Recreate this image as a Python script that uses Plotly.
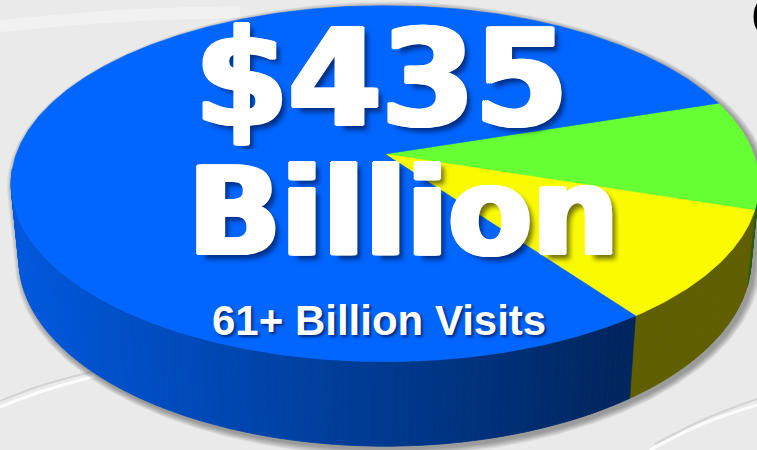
import numpy as np
import plotly.graph_objects as go

# ---- data -------------------------------------------------------------
segment_labels = ["Segment A", "Segment B", "Segment C"]
segment_values = [10, 10, 80]
segment_colors = ["#66FF33", "#FAFA00", "#0066FF"]

headline = "$435"
headline_unit = "Billion"
subline = "61+ Billion Visits"

# ---- 3D pie geometry ---------------------------------------------------
W, H_PX = 757, 450
PHI = np.radians(28.0)          # camera elevation
CPHI, SPHI = np.cos(PHI), np.sin(PHI)
DIST = 5.3                      # camera distance (pie radius = 1)
FOCAL = 1954.0
CX, CY = 385.0, 154.0           # screen position of the pie centre
THICK = 0.235                   # pie thickness
START_DEG = 18.0                # first boundary, slices run clockwise


def project(X, Y, Z):
    depth = DIST + Y * CPHI - Z * SPHI
    sx = CX + FOCAL * X / depth
    sy = CY - FOCAL * (Y * SPHI + Z * CPHI) / depth
    return sx, sy


def shade(hex_color, k):
    h = hex_color.lstrip("#")
    r, g, b = (int(h[i:i + 2], 16) for i in (0, 2, 4))
    return "rgb({},{},{})".format(int(r * k), int(g * k), int(b * k))


total = float(sum(segment_values))
bounds = [START_DEG]
for v in segment_values:
    bounds.append(bounds[-1] - 360.0 * v / total)

fig = go.Figure()

# faint streaks in the backdrop
streaks = [
    dict(x=[0, 40, 95], y=[407, 392, 376], c="rgba(255,255,255,0.85)", w=3),
    dict(x=[0, 40, 95], y=[401, 386, 371], c="rgba(170,170,170,0.35)", w=2),
    dict(x=[0, 120, 240], y=[26, 16, 12], c="rgba(255,255,255,0.35)", w=12),
    dict(x=[650, 700, 757], y=[450, 425, 405], c="rgba(255,255,255,0.8)", w=3),
    dict(x=[655, 705, 757], y=[444, 419, 399], c="rgba(170,170,170,0.35)", w=2),
]
for s in streaks:
    fig.add_trace(go.Scatter(x=s["x"], y=s["y"], mode="lines",
                             line=dict(color=s["c"], width=s["w"], shape="spline"),
                             hoverinfo="skip", showlegend=False))

# soft shadow under the pie (convex outline of top and bottom rims)
tt = np.radians(np.linspace(0, 360, 361))
tx, ty = project(np.cos(tt), np.sin(tt), 0 * tt)
bx, by = project(np.cos(tt), np.sin(tt), -THICK + 0 * tt)
pts = np.vstack([np.column_stack([tx, ty]), np.column_stack([bx, by])])


def hull(p):
    p = sorted(map(tuple, p))
    def half(seq):
        out = []
        for q in seq:
            while len(out) >= 2 and (
                (out[-1][0] - out[-2][0]) * (q[1] - out[-2][1])
                - (out[-1][1] - out[-2][1]) * (q[0] - out[-2][0])
            ) <= 0:
                out.pop()
            out.append(q)
        return out
    lo, up = half(p), half(reversed(p))
    return np.array(lo[:-1] + up[:-1])


hp = hull(pts)
cen = hp.mean(axis=0)
for k in range(7, 0, -1):
    rad = np.linalg.norm(hp - cen, axis=1, keepdims=True)
    q = cen + (hp - cen) * (1 + k / rad) + np.array([3.0, 3.0])
    fig.add_trace(go.Scatter(
        x=np.append(q[:, 0], q[0, 0]), y=np.append(q[:, 1], q[0, 1]),
        fill="toself", fillcolor="rgba(40,40,40,0.07)",
        line=dict(width=0), mode="lines", hoverinfo="skip", showlegend=False))

# side walls, painted far to near
quads = []
for i, col in enumerate(segment_colors):
    a0, a1 = bounds[i], bounds[i + 1]
    n = max(2, int(abs(a0 - a1)))
    edges = np.radians(np.linspace(a0, a1, n + 1))
    for t0, t1 in zip(edges[:-1], edges[1:]):
        tm = 0.5 * (t0 + t1)
        if np.sin(tm) > -0.08:
            continue
        xs, ys = [], []
        for t, z in ((t0, 0.0), (t1, 0.0), (t1, -THICK), (t0, -THICK)):
            sx, sy = project(np.cos(t), np.sin(t), z)
            xs.append(sx)
            ys.append(sy)
        depth = DIST + np.sin(tm) * CPHI + 0.5 * THICK * SPHI
        mx = float(np.mean(xs))
        k = float(np.clip(0.87 - 0.5 * (mx - 20) / 600, 0.38, 0.87))
        quads.append((depth, xs, ys, shade(col, k)))

for depth, xs, ys, c in sorted(quads, key=lambda q: -q[0]):
    fig.add_trace(go.Scatter(
        x=xs + [xs[0]], y=ys + [ys[0]], fill="toself", fillcolor=c,
        line=dict(width=0.8, color=c), mode="lines",
        hoverinfo="skip", showlegend=False))

# top faces
for i, (lab, col) in enumerate(zip(segment_labels, segment_colors)):
    a0, a1 = bounds[i], bounds[i + 1]
    t = np.radians(np.linspace(a0, a1, max(3, int(abs(a0 - a1) * 2))))
    sx, sy = project(np.cos(t), np.sin(t), 0 * t)
    ax, ay = project(0.0, 0.0, 0.0)
    fig.add_trace(go.Scatter(
        x=np.concatenate([[ax], sx, [ax]]), y=np.concatenate([[ay], sy, [ay]]),
        fill="toself", fillcolor=col, line=dict(width=0.6, color=col),
        mode="lines", name=lab, hoverinfo="skip", showlegend=False))

# heavy white lettering: thickened with white offsets, plus a drop shadow
fat = ", ".join("{}px {}px 0 #ffffff".format(dx, dy)
                for dx, dy in ((-3, 0), (3, 0), (-2, 0), (2, 0), (-1, 0), (1, 0),
                               (0, -1), (0, 1), (-2, 1), (2, 1), (-2, -1), (2, -1)))
big_shadow = fat + ", 6px 5px 5px rgba(0,0,30,0.55)"
small_shadow = "2px 2px 3px rgba(0,0,30,0.6)"

annotations = [
    dict(x=381, y=79, text=headline, height=140,
         font=dict(family="DejaVu Sans", size=134, color="white",
                   weight="bold", shadow=big_shadow)),
    dict(x=403, y=212, text=headline_unit, height=108,
         font=dict(family="DejaVu Sans", size=122, color="white",
                   weight="bold", shadow=big_shadow)),
    dict(x=379, y=320, text=subline,
         font=dict(family="Liberation Sans", size=42,
                   color="white", weight="bold", shadow=small_shadow)),
    dict(x=749, y=16, text="C", xanchor="left",
         font=dict(family="Liberation Sans", size=62, color="black",
                   weight="bold")),
]
for a in annotations:
    a.setdefault("xanchor", "center")
    fig.add_annotation(xref="x", yref="y", yanchor="middle", valign="middle",
                       showarrow=False, **a)

fig.update_layout(
    width=W, height=H_PX, margin=dict(l=0, r=0, t=0, b=0),
    paper_bgcolor="#EAEAEA", plot_bgcolor="#EAEAEA",
    xaxis=dict(range=[0, W], visible=False, fixedrange=True),
    yaxis=dict(range=[H_PX, 0], visible=False, fixedrange=True),
    showlegend=False,
)

fig.write_html("out.html")
